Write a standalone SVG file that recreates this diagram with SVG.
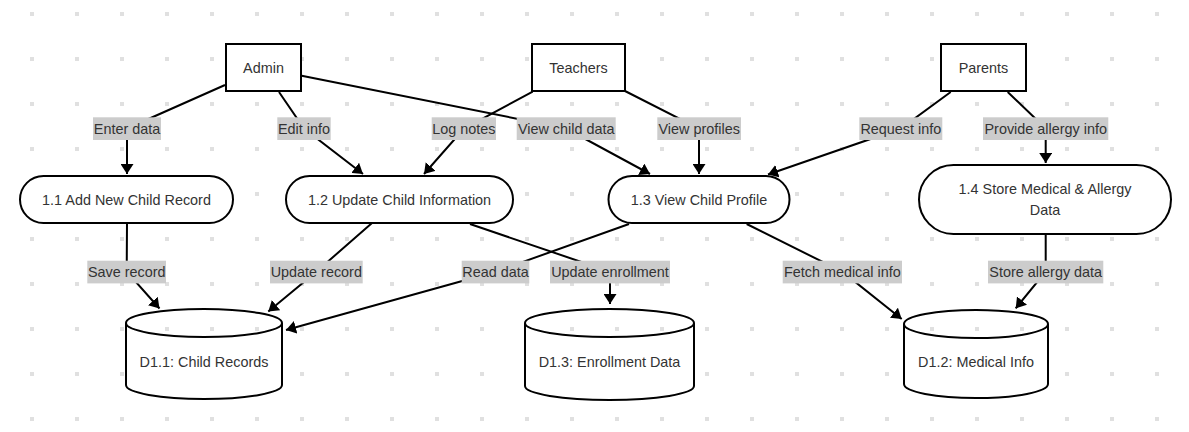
<svg xmlns="http://www.w3.org/2000/svg" width="1189" height="432" viewBox="0 0 1189 432">
<style>
text{font-family:"Liberation Sans",Arial,sans-serif;font-size:14.4px;fill:#333;text-anchor:middle}
.n{fill:#fff;stroke:#000;stroke-width:2}
.e{fill:none;stroke:#000;stroke-width:2;marker-end:url(#arr)}
.lb{fill:#cccccc}
</style>
<defs>
<pattern id="grid" patternUnits="userSpaceOnUse" x="30" y="12" width="45" height="45">
<rect x="0" y="0" width="4" height="4" fill="#e0e0e0"/>
</pattern>
<marker id="arr" markerUnits="userSpaceOnUse" markerWidth="11" markerHeight="13" refX="10" refY="6.5" orient="auto">
<path d="M0,0 L10,6.5 L0,13 z" fill="#000"/>
</marker>
</defs>
<rect width="1189" height="432" fill="#fff"/>
<rect width="1189" height="432" fill="url(#grid)"/>
<g id="connectors">
<g><path class="e" d="M225,85 L127,128.5 L127,174"/><rect class="lb" x="93" y="117.3" width="68" height="22.7"/><text x="127" y="133.6">Enter data</text></g>
<g><path class="e" d="M279,92 L304,128.5 L363,174"/><rect class="lb" x="277.3" y="117.3" width="53.4" height="22.7"/><text x="304" y="133.6">Edit info</text></g>
<g><path class="e" d="M301.7,75.7 L566,128.5 L650,174"/><rect class="lb" x="516.7" y="117.3" width="99" height="22.7"/><text x="566.2" y="133.6">View child data</text></g>
<g><path class="e" d="M532.7,91.7 L464,128.5 L424,174"/><rect class="lb" x="431.7" y="117.3" width="64.3" height="22.7"/><text x="463.8" y="133.6">Log notes</text></g>
<g><path class="e" d="M625,91 L699,128.5 L699,174"/><rect class="lb" x="657.3" y="117.3" width="83.7" height="22.7"/><text x="699.2" y="133.6">View profiles</text></g>
<g><path class="e" d="M950.7,92 L900.8,128.5 L768,174.5"/><rect class="lb" x="859.3" y="117.3" width="83" height="22.7"/><text x="900.8" y="133.6">Request info</text></g>
<g><path class="e" d="M1007.7,92 L1045.7,128.5 L1045.7,163"/><rect class="lb" x="983" y="117.3" width="125.3" height="22.7"/><text x="1045.7" y="133.6">Provide allergy info</text></g>
<g><path class="e" d="M127,223 L126.7,271.7 L159.5,308.5"/><rect class="lb" x="87.3" y="260.7" width="78.7" height="22.7"/><text x="126.7" y="277">Save record</text></g>
<g><path class="e" d="M372,223 L316.3,271.7 L268.3,311.5"/><rect class="lb" x="270" y="260.7" width="92.7" height="22.7"/><text x="316.3" y="277">Update record</text></g>
<g><path class="e" d="M629,224 L495.5,271.7 L286,330"/><rect class="lb" x="461.7" y="260.7" width="67.6" height="22.7"/><text x="495.5" y="277">Read data</text></g>
<g><path class="e" d="M470,224 L610,271.7 L610,304"/><rect class="lb" x="550" y="260.7" width="120" height="22.7"/><text x="610" y="277">Update enrollment</text></g>
<g><path class="e" d="M746.7,224 L842.3,271.7 L901.7,319"/><rect class="lb" x="782.7" y="260.7" width="119.3" height="22.7"/><text x="842.3" y="277">Fetch medical info</text></g>
<g><path class="e" d="M1045.7,234 L1045.7,271.7 L1015.7,308.3"/><rect class="lb" x="988" y="260.7" width="115.3" height="22.7"/><text x="1045.7" y="277">Store allergy data</text></g>
</g>
<g id="admin"><rect class="n" x="226" y="44" width="75" height="47"/><text x="263.5" y="73">Admin</text></g>
<g id="teachers"><rect class="n" x="532" y="44" width="93" height="47"/><text x="578.5" y="73">Teachers</text></g>
<g id="parents"><rect class="n" x="941" y="44" width="85" height="47"/><text x="983.5" y="73">Parents</text></g>
<g id="p11"><rect class="n" x="20" y="176" width="213" height="47" rx="23.5"/><text x="126.5" y="204.5">1.1 Add New Child Record</text></g>
<g id="p12"><rect class="n" x="286" y="176" width="227" height="47" rx="23.5"/><text x="399.5" y="204.5">1.2 Update Child Information</text></g>
<g id="p13"><rect class="n" x="608.5" y="176" width="181" height="47" rx="23.5"/><text x="699" y="204.5">1.3 View Child Profile</text></g>
<g id="p14"><rect class="n" x="919" y="165" width="252" height="69" rx="34.5"/><text x="1045" y="194">1.4 Store Medical &amp; Allergy</text><text x="1045" y="215">Data</text></g>
<g id="d11"><path class="n" d="M126,323 A78,14 0 0 1 282,323 L282,385 A78,14 0 0 1 126,385 Z M126,323 A78,14 0 0 0 282,323"/><text x="204" y="367">D1.1: Child Records</text></g>
<g id="d13"><path class="n" d="M525,323 A84.5,14 0 0 1 694,323 L694,386 A84.5,14 0 0 1 525,386 Z M525,323 A84.5,14 0 0 0 694,323"/><text x="609.5" y="367">D1.3: Enrollment Data</text></g>
<g id="d12"><path class="n" d="M904,324 A72,14 0 0 1 1048,324 L1048,384 A72,14 0 0 1 904,384 Z M904,324 A72,14 0 0 0 1048,324"/><text x="976" y="367">D1.2: Medical Info</text></g>
</svg>
